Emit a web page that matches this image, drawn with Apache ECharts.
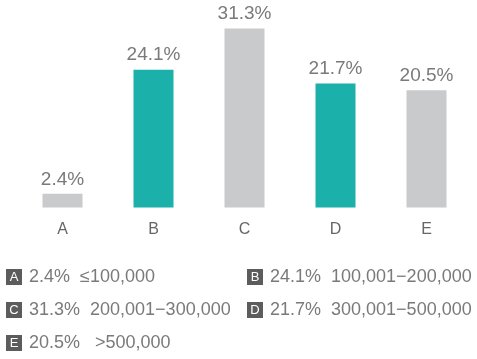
<!DOCTYPE html>
<html><head><meta charset="utf-8">
<script src="https://cdn.jsdelivr.net/npm/echarts@6/dist/echarts.min.js"></script>
<style>html,body{margin:0;padding:0;background:#fff}#c{width:477px;height:359px}</style>
</head><body><div id="c"></div>
<script>
var categories = ['A', 'B', 'C', 'D', 'E'];
var shares = [2.4, 24.1, 31.3, 21.7, 20.5];
var ranges = ['≤100,000', '100,001−200,000', '200,001−300,000', '300,001−500,000', '>500,000'];
var highlighted = [false, true, false, true, false];

var TEAL = '#1bb0aa', GRAY = '#c9cacc';
var FONT = 'Liberation Sans';

var legendItems = categories.map(function (c, i) {
  var col = i % 2, row = Math.floor(i / 2);
  return {
    type: 'text',
    left: col === 0 ? 6 : 247,
    top: 268 + row * 33,
    style: {
      text: '{b|' + c + '}{s|}' + shares[i].toFixed(1) + '%' + (i === 4 ? '   ' : '  ') + ranges[i],
      font: '18px ' + FONT,
      fill: '#7a7a7a',
      rich: {
        b: { backgroundColor: '#5c5c5c', fill: '#ffffff', width: 16, height: 16, align: 'center',
             fontSize: 13, fontFamily: FONT, lineHeight: 16 },
        s: { width: 7 }
      }
    }
  };
});

var chart = echarts.init(document.getElementById('c'));
chart.setOption({
  animation: false,
  grid: { left: 17, right: 5, top: 28.5, bottom: 151.5 },
  xAxis: {
    type: 'category', data: categories,
    axisLine: { show: false }, axisTick: { show: false },
    axisLabel: { color: '#666', fontSize: 16, fontFamily: FONT, margin: 14 }
  },
  yAxis: { type: 'value', min: 0, max: Math.max.apply(null, shares), show: false, splitLine: { show: false } },
  series: [{
    type: 'bar', barWidth: 40,
    data: shares.map(function (v, i) { return { value: v, itemStyle: { color: highlighted[i] ? TEAL : GRAY } }; }),
    label: { show: true, position: 'top', distance: 5, color: '#7a7a7a', fontSize: 19, fontFamily: FONT,
             formatter: function (p) { return p.value.toFixed(1) + '%'; } }
  }],
  graphic: legendItems
});
</script></body></html>
